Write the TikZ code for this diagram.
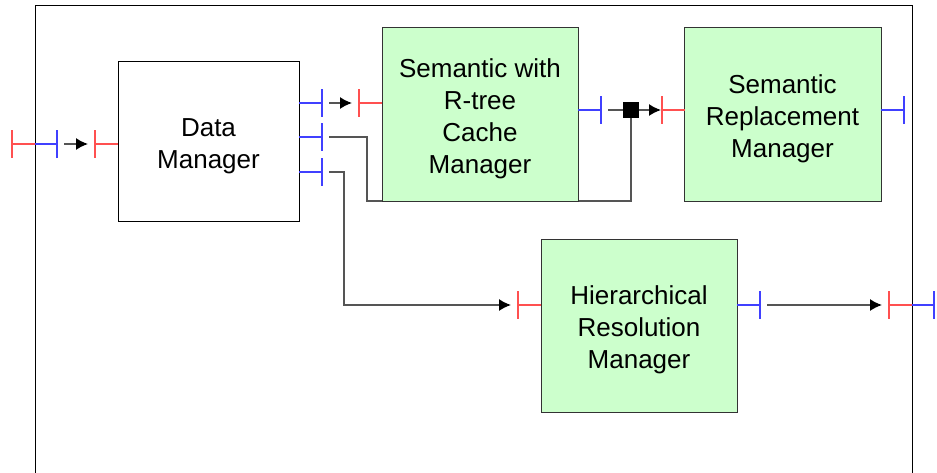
\documentclass[tikz,border=0pt]{standalone}
\usepackage{fontspec}
\setmainfont{Liberation Sans}
\usetikzlibrary{arrows.meta}
\definecolor{boxgreen}{HTML}{CCFFCC}
\definecolor{portred}{HTML}{FF5050}
\definecolor{portblue}{HTML}{4040FF}
\definecolor{wiregray}{HTML}{555555}
\newcommand\mytopfix{\rule{0pt}{28pt}}
\begin{document}
\begin{tikzpicture}[x=1pt,y=-1pt,
  blk/.style={draw=black, line width=1pt, fill=white, align=center,
    font=\fontsize{26}{32}\selectfont, inner sep=0pt},
  gblk/.style={blk, fill=boxgreen, draw=black!80},
  inportline/.style={draw=portred, line width=1.4pt},
  outportline/.style={draw=portblue, line width=1.4pt},
  wire/.style={draw=wiregray, line width=1.5pt},
  arr/.style={wire, -{Latex[length=12pt,width=12pt,color=black]}},
  inp/.pic={\draw[inportline] (0,-14) -- (0,14); \draw[inportline] (0,0) -- (23,0);},
  outp/.pic={\draw[outportline] (0,-14) -- (0,14); \draw[outportline] (0,0) -- (-23,0);}
]
\useasboundingbox (0,0) rectangle (937,472);
% outer frame (open at the bottom)
\draw[line width=1pt] (35,480) -- (35,5) -- (912,5) -- (912,480);

% connection points
\coordinate (srcOut) at (57,144);
\coordinate (dmIn) at (95,144);
\coordinate (dmO1) at (322,103);
\coordinate (dmO2) at (322,137);
\coordinate (dmO3) at (322,172);
\coordinate (scIn) at (359,103);
\coordinate (scOut) at (601,110);
\coordinate (srIn) at (662,110);
\coordinate (srOut) at (904,110);
\coordinate (hIn) at (518,305);
\coordinate (hOut) at (760,305);
\coordinate (sinkIn) at (889,305);
\coordinate (c2) at (367,201);
\coordinate (c3) at (344,305);

% wires
\draw[wire] ([xshift=7]dmO2) -| (c2) -| (631,118);
\draw[arr] ([xshift=7]dmO3) -| (c3) -- ([xshift=-7]hIn);
\draw[arr] ([xshift=7]srcOut) -- ([xshift=-7]dmIn);
\draw[arr] ([xshift=7]dmO1) -- ([xshift=-7]scIn);
\draw[arr] ([xshift=7]scOut) -- ([xshift=-1]srIn);
\draw[arr] ([xshift=7]hOut) -- ([xshift=-7]sinkIn);

% blocks
\node[blk, minimum width=181pt, minimum height=160pt] (dm) at (208.5,141) {\mytopfix Data\\Manager};
\node[gblk, minimum width=196pt, minimum height=174pt] (sc) at (480,114) {\mytopfix Semantic with\\R-tree\\Cache\\Manager};
\node[gblk, minimum width=197pt, minimum height=174pt] (sr) at (782.5,114) {\mytopfix Semantic\\Replacement\\Manager};
\node[gblk, minimum width=196pt, minimum height=173pt] (hr) at (639,325.5) {\mytopfix Hierarchical\\Resolution\\Manager};
\node[fill=black, minimum size=16pt, inner sep=0pt] (jn) at (631,110) {};

% ports
\pic at (12,144) {inp};
\draw[outportline] (35,144) -- (srcOut);
\draw[outportline] ([yshift=-14]srcOut) -- ([yshift=14]srcOut);
\pic at (dmIn) {inp};
\pic at (dmO1) {outp};
\pic at (dmO2) {outp};
\pic at (dmO3) {outp};
\pic at (scIn) {inp};
\pic at (scOut) {outp};
\pic at (srIn) {inp};
\pic at (srOut) {outp};
\pic at (hIn) {inp};
\pic at (hOut) {outp};
\pic at (sinkIn) {inp};
\draw[outportline] (912,305) -- (934,305);
\draw[outportline] (934,291) -- (934,319);
\end{tikzpicture}
\end{document}
